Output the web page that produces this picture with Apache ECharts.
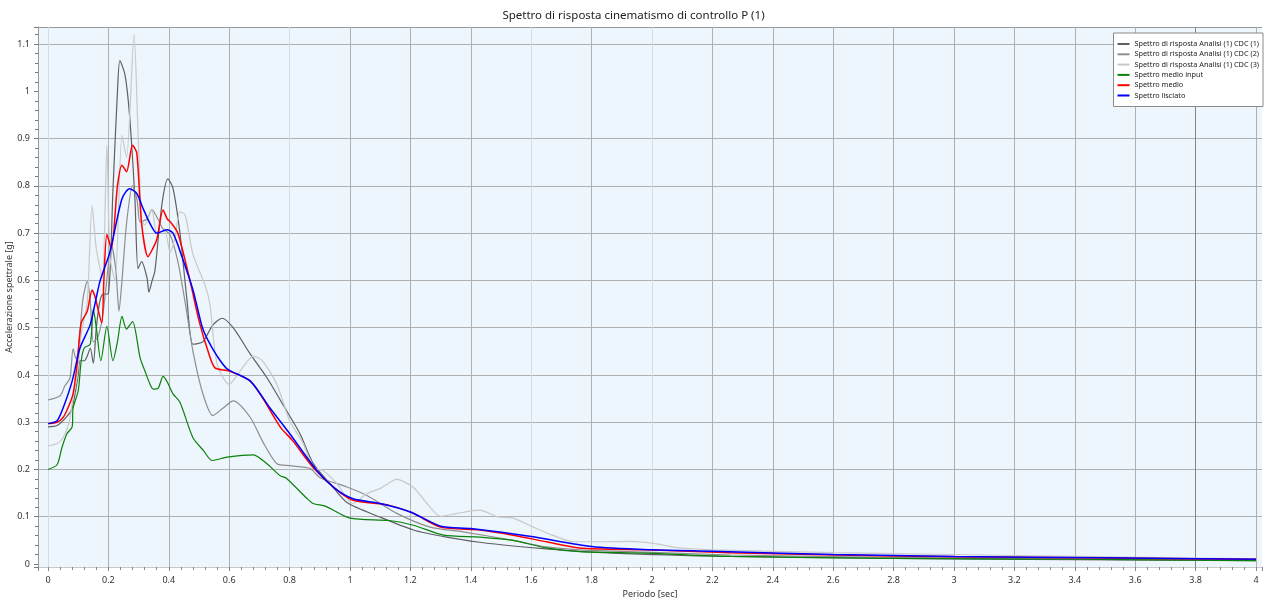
<!DOCTYPE html>
<html><head><meta charset="utf-8">
<script src="https://cdn.jsdelivr.net/npm/echarts@6/dist/echarts.min.js"></script>
<style>html,body{margin:0;padding:0;background:#fff}#c{width:1267px;height:601px}</style>
</head><body><div id="c"></div>
<script>
const titleText = 'Spettro di risposta cinematismo di controllo P (1)';
const xAxisName = 'Periodo [sec]';
const yAxisName = 'Accelerazione spettrale [g]';
const seriesNames = [
  'Spettro di risposta Analisi (1) CDC (1)',
  'Spettro di risposta Analisi (1) CDC (2)',
  'Spettro di risposta Analisi (1) CDC (3)',
  'Spettro medio input',
  'Spettro medio',
  'Spettro lisciato'
];
const seriesColors = ['#606060', '#8e8e8e', '#c9c9c9', '#0a820a', '#ff0000', '#0000ff'];

// [period (s), acceleration (g)]
const cdc1 = [[0,0.29],[0.03,0.293],[0.06,0.31],[0.08,0.33],[0.1,0.40],[0.106,0.43],[0.12,0.43],[0.13,0.44],[0.14,0.457],[0.15,0.425],[0.16,0.50],[0.17,0.55],[0.18,0.57],[0.2,0.572],[0.215,0.79],[0.23,1.0],[0.238,1.065],[0.255,1.035],[0.27,0.95],[0.288,0.77],[0.298,0.625],[0.31,0.64],[0.328,0.605],[0.334,0.575],[0.345,0.6],[0.354,0.62],[0.377,0.76],[0.397,0.815],[0.414,0.795],[0.437,0.70],[0.46,0.56],[0.48,0.465],[0.513,0.47],[0.545,0.505],[0.576,0.52],[0.613,0.5],[0.67,0.444],[0.725,0.394],[0.78,0.335],[0.834,0.276],[0.878,0.213],[0.934,0.17],[0.99,0.13],[1.1,0.099],[1.21,0.072],[1.32,0.057],[1.43,0.046],[1.54,0.038],[1.65,0.032],[1.87,0.023],[2.26,0.016],[2.8,0.012],[3.4,0.009],[4,0.007]];
const cdc2 = [[0,0.347],[0.04,0.356],[0.056,0.377],[0.073,0.394],[0.083,0.455],[0.093,0.434],[0.1,0.45],[0.116,0.562],[0.13,0.598],[0.14,0.556],[0.15,0.47],[0.165,0.48],[0.18,0.52],[0.19,0.573],[0.21,0.675],[0.225,0.62],[0.235,0.535],[0.245,0.6],[0.26,0.72],[0.28,0.80],[0.295,0.77],[0.305,0.724],[0.328,0.73],[0.344,0.75],[0.364,0.73],[0.38,0.71],[0.404,0.697],[0.43,0.64],[0.455,0.55],[0.48,0.45],[0.513,0.36],[0.546,0.314],[0.58,0.33],[0.613,0.345],[0.67,0.31],[0.71,0.26],[0.758,0.212],[0.8,0.208],[0.868,0.202],[0.9,0.183],[0.99,0.163],[1.056,0.145],[1.155,0.107],[1.265,0.078],[1.374,0.068],[1.54,0.05],[1.65,0.036],[1.76,0.03],[1.98,0.025],[2.26,0.019],[2.8,0.014],[3.4,0.011],[4,0.008]];
const cdc3 = [[0,0.25],[0.03,0.255],[0.05,0.267],[0.07,0.30],[0.085,0.36],[0.096,0.394],[0.11,0.486],[0.13,0.556],[0.146,0.758],[0.16,0.667],[0.18,0.604],[0.195,0.886],[0.205,0.65],[0.222,0.6],[0.245,0.907],[0.26,0.86],[0.285,1.12],[0.298,0.914],[0.31,0.73],[0.32,0.717],[0.344,0.75],[0.36,0.703],[0.387,0.703],[0.404,0.66],[0.42,0.688],[0.437,0.745],[0.454,0.739],[0.48,0.655],[0.52,0.59],[0.536,0.55],[0.56,0.423],[0.6,0.38],[0.636,0.408],[0.68,0.44],[0.71,0.43],[0.758,0.38],[0.8,0.303],[0.845,0.255],[0.877,0.204],[0.91,0.198],[0.957,0.17],[1.01,0.128],[1.056,0.149],[1.1,0.16],[1.155,0.179],[1.21,0.162],[1.255,0.128],[1.3,0.101],[1.354,0.107],[1.43,0.114],[1.487,0.1],[1.54,0.097],[1.607,0.078],[1.67,0.061],[1.74,0.047],[1.82,0.047],[1.93,0.048],[2.0,0.044],[2.09,0.034],[2.2,0.03],[2.6,0.024],[3.0,0.02],[3.4,0.016],[4,0.011]];
const medioInput = [[0,0.2],[0.03,0.21],[0.046,0.246],[0.063,0.276],[0.08,0.29],[0.083,0.33],[0.1,0.366],[0.11,0.43],[0.12,0.457],[0.14,0.465],[0.15,0.54],[0.16,0.50],[0.175,0.43],[0.195,0.503],[0.215,0.43],[0.23,0.47],[0.245,0.524],[0.26,0.497],[0.28,0.513],[0.305,0.436],[0.32,0.41],[0.338,0.38],[0.348,0.37],[0.365,0.372],[0.381,0.397],[0.395,0.385],[0.414,0.36],[0.437,0.342],[0.48,0.267],[0.515,0.24],[0.543,0.219],[0.593,0.226],[0.68,0.231],[0.725,0.212],[0.768,0.187],[0.79,0.181],[0.857,0.139],[0.878,0.128],[0.92,0.122],[1.0,0.097],[1.13,0.092],[1.21,0.082],[1.31,0.061],[1.43,0.057],[1.54,0.05],[1.65,0.034],[1.76,0.026],[1.98,0.023],[2.26,0.016],[2.8,0.012],[3.4,0.01],[4,0.007]];
const medio = [[0,0.297],[0.03,0.30],[0.05,0.31],[0.066,0.33],[0.083,0.36],[0.096,0.42],[0.11,0.51],[0.13,0.535],[0.146,0.58],[0.155,0.567],[0.178,0.51],[0.185,0.6],[0.195,0.697],[0.21,0.668],[0.23,0.80],[0.245,0.844],[0.26,0.83],[0.28,0.886],[0.294,0.87],[0.31,0.72],[0.331,0.65],[0.345,0.665],[0.36,0.686],[0.381,0.749],[0.395,0.73],[0.404,0.725],[0.43,0.70],[0.47,0.60],[0.5,0.515],[0.53,0.45],[0.553,0.415],[0.6,0.408],[0.67,0.387],[0.71,0.352],[0.77,0.289],[0.81,0.261],[0.878,0.204],[0.95,0.16],[1.01,0.135],[1.13,0.124],[1.21,0.107],[1.3,0.078],[1.43,0.072],[1.54,0.061],[1.65,0.047],[1.76,0.034],[1.98,0.03],[2.26,0.024],[2.8,0.017],[3.4,0.013],[4,0.01]];
const lisciato = [[0,0.297],[0.03,0.303],[0.05,0.33],[0.08,0.387],[0.106,0.457],[0.14,0.507],[0.172,0.598],[0.205,0.66],[0.245,0.773],[0.27,0.794],[0.294,0.784],[0.315,0.752],[0.338,0.72],[0.36,0.70],[0.394,0.707],[0.414,0.70],[0.447,0.644],[0.48,0.58],[0.51,0.503],[0.526,0.478],[0.56,0.44],[0.593,0.413],[0.67,0.387],[0.735,0.33],[0.8,0.276],[0.89,0.198],[0.95,0.16],[1.01,0.138],[1.1,0.128],[1.2,0.11],[1.3,0.08],[1.4,0.075],[1.6,0.058],[1.8,0.037],[2.0,0.03],[2.2,0.027],[2.6,0.02],[3.0,0.016],[3.5,0.013],[4,0.01]];

const seriesData = [cdc1, cdc2, cdc3, medioInput, medio, lisciato];
const lineWidths = [1.2, 1.2, 1.2, 1.2, 1.5, 1.5];

// axis ranges (plot area extends slightly past 0 on both axes)
const xMin = -0.0331, xMax = 4.0199, xStep = 0.2;
const yMin = -0.0064, yMax = 1.1363, yStep = 0.1;

const FONT = 'Noto Sans, DejaVu Sans, sans-serif';
const L = '#d3dbe3', G = '#b0b0b0', D = '#858585', T = 'rgba(0,0,0,0)';
// first entry: left edge, then 0 ... 4, then right edge
const xSplitColors = [T, L,G,G,G,L,G,G,G,L,G,L,G,G,G,G,G,G,G,G,D,G, T];
// first entry: bottom edge, then 0 ... 1.1, then top edge
const ySplitColors = [T, T,G,G,G,G,G,G,G,G,G,T,G, '#999'];

const chart = echarts.init(document.getElementById('c'), null, {renderer: 'canvas'});
chart.setOption({
  animation: false,
  backgroundColor: '#ffffff',
  textStyle: {fontFamily: FONT},
  title: {
    text: titleText, left: 'center', top: 5,
    textStyle: {fontSize: 11.5, fontWeight: 'normal', color: '#222', fontFamily: FONT}
  },
  grid: {left: 38, right: 5, top: 27, bottom: 34, containLabel: false, outerBoundsMode: 'none',
    show: true, backgroundColor: '#edf5fd', borderWidth: 0},
  legend: {
    orient: 'vertical', right: 4, top: 33,
    backgroundColor: '#ffffff', borderColor: '#8a8a8a', borderWidth: 1,
    padding: [6, 4, 6, 4], itemWidth: 12, itemHeight: 2, itemGap: 0.3, itemTextGap: 4,
    icon: 'rect',
    textStyle: {fontSize: 7.3, color: '#222', lineHeight: 10, fontFamily: FONT},
    data: seriesNames
  },
  xAxis: {
    type: 'value', min: xMin, max: xMax, minInterval: xStep, maxInterval: xStep, splitNumber: 20,
    name: xAxisName, nameLocation: 'middle', nameGap: 23, nameMoveOverlap: false,
    nameTextStyle: {fontSize: 9, color: '#333'},
    axisLine: {show: true, onZero: false, lineStyle: {color: '#c8c8c8'}},
    axisTick: {show: true, length: 4, lineStyle: {color: '#888'}},
    minorTick: {show: true, splitNumber: 5, length: 3, lineStyle: {color: '#888'}},
    axisLabel: {fontSize: 9, color: '#333', margin: 9, interval: 0, showMinLabel: false, showMaxLabel: false, hideOverlap: false},
    splitLine: {show: true, lineStyle: {color: xSplitColors, width: 1}}
  },
  yAxis: {
    type: 'value', min: yMin, max: yMax, minInterval: yStep, maxInterval: yStep, splitNumber: 11,
    name: yAxisName, nameLocation: 'middle', nameGap: 24, nameRotate: 90, nameMoveOverlap: false,
    nameTextStyle: {fontSize: 9, color: '#333'},
    axisLine: {show: true, onZero: false, lineStyle: {color: '#999'}},
    axisTick: {show: true, length: 4, lineStyle: {color: '#777'}},
    minorTick: {show: true, splitNumber: 5, length: 3, lineStyle: {color: '#777'}},
    axisLabel: {fontSize: 9, color: '#333', margin: 8, interval: 0, showMinLabel: false, showMaxLabel: false, hideOverlap: false},
    splitLine: {show: true, lineStyle: {color: ySplitColors, width: 1}}
  },
  series: seriesNames.map((n, i) => ({
    name: n, type: 'line', data: seriesData[i],
    symbol: 'none', showSymbol: false, smooth: 0.25,
    color: seriesColors[i],
    lineStyle: {width: lineWidths[i], color: seriesColors[i]},
    z: 2 + i
  }))
});
</script></body></html>
